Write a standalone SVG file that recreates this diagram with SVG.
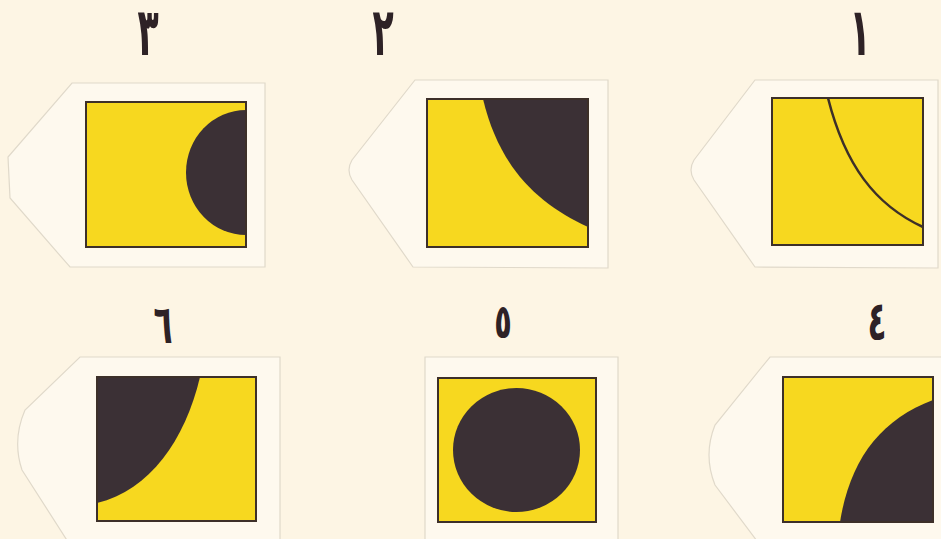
<svg xmlns="http://www.w3.org/2000/svg" width="941" height="539" viewBox="0 0 941 539">
<style>
.card{fill:#fef9ee;stroke:#e0d9ca;stroke-width:1.2}
.sq{fill:#f7d81f;stroke:#3d3029;stroke-width:2}
.dk{fill:#3b3035}
.ln{fill:none;stroke:#3d3029;stroke-width:2.5}
.num{font-family:"DejaVu Sans",sans-serif;font-weight:bold;fill:#2e2226;text-anchor:middle}
</style>
<rect width="941" height="539" fill="#fdf5e4"/>
<g id="tile3">
<path class="card" d="M72,83 L265,83 L265,267 L70,267 L10,198 L8,157 Z"/>
<rect class="sq" x="86" y="102" width="160" height="145"/>
<path class="dk" d="M246,110 A60,62.5 0 0 0 246,235 Z"/>
<rect x="86" y="102" width="160" height="145" fill="none" stroke="#3d3029" stroke-width="2"/>
<text class="num" transform="translate(148,55) scale(0.6,1.15)" font-size="58">٣</text>
</g>
<g id="tile2">
<path class="card" d="M415,80 L608,80 L608,268 L413,267 L352,180 Q346,170 352,160 Z"/>
<rect class="sq" x="427" y="99" width="161" height="148"/>
<path class="dk" d="M483,99 C500,170 540,205 588,227 L588,99 Z"/>
<rect x="427" y="99" width="161" height="148" fill="none" stroke="#3d3029" stroke-width="2"/>
<text class="num" transform="translate(383,55) scale(0.6,1.15)" font-size="58">٢</text>
</g>
<g id="tile1">
<path class="card" d="M755,80 L938,80 L938,268 L755,267 L694,180 Q688,170 694,160 Z"/>
<rect class="sq" x="772" y="98" width="151" height="147"/>
<path class="ln" d="M828,98 C845,165 875,205 923,227"/>
<text class="num" transform="translate(860,55) scale(0.6,1.15)" font-size="58">١</text>
</g>
<g id="tile6">
<path class="card" d="M80,357 L280,357 L280,545 L70,545 L22,470 Q12,440 25,410 Z"/>
<rect class="sq" x="97" y="377" width="159" height="144"/>
<path class="dk" d="M97,377 L200,377 C185,440 150,490 97,503 Z"/>
<rect x="97" y="377" width="159" height="144" fill="none" stroke="#3d3029" stroke-width="2"/>
<text class="num" transform="translate(163,343) scale(0.6,1.05)" font-size="52">٦</text>
</g>
<g id="tile5">
<path class="card" d="M425,357 L618,357 L618,545 L425,545 Z"/>
<rect class="sq" x="438" y="378" width="158" height="144"/>
<ellipse class="dk" cx="516.5" cy="450" rx="63.5" ry="62"/>
<text class="num" transform="translate(503,338) scale(0.6,1)" font-size="48">٥</text>
</g>
<g id="tile4">
<path class="card" d="M770,357 L945,357 L945,545 L760,545 L715,485 Q703,455 715,425 Z"/>
<rect class="sq" x="783" y="377" width="150" height="145"/>
<path class="dk" d="M933,400 C880,420 850,460 840,522 L933,522 Z"/>
<rect x="783" y="377" width="150" height="145" fill="none" stroke="#3d3029" stroke-width="2"/>
<text class="num" transform="translate(877,340) scale(0.6,1.05)" font-size="52">٤</text>
</g>
<g id="connectors"/>
</svg>
